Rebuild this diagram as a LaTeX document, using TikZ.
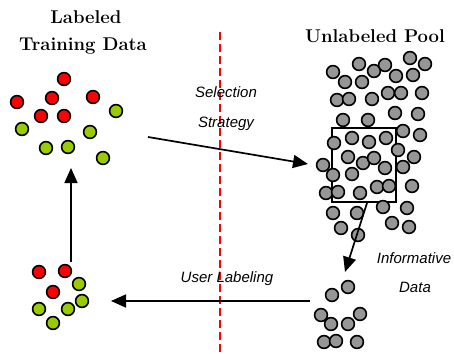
\documentclass[tikz,border=0pt]{standalone}
\usepackage{fontspec}
\setsansfont{Liberation Sans}
\usetikzlibrary{arrows.meta}

\definecolor{leafgreen}{RGB}{153,204,0}
\definecolor{poolgray}{RGB}{150,150,150}

\tikzset{
  dot/.style={circle, draw=black, line width=1.6pt, minimum size=12.8pt, inner sep=0pt},
  reddot/.style={dot, fill=red},
  greendot/.style={dot, fill=leafgreen},
  graydot/.style={dot, fill=poolgray},
  title/.style={font=\bfseries\fontsize{18.5}{22}\selectfont, anchor=base},
  note/.style={font=\sffamily\itshape\fontsize{15}{18}\selectfont, anchor=base},
  flow/.style={line width=1.7pt, -{Triangle[length=15pt,width=13pt]}},
}

\begin{document}
\begin{tikzpicture}[x=1pt, y=-1pt]
  \useasboundingbox (0,0) rectangle (454,353);

  % titles
  \node[title] (lab1) at (86,24) {Labeled};
  \node[title] (lab2) at (83,50) {Training Data};
  \node[title] (pool) at (375,42) {Unlabeled Pool};

  % divider
  \draw[red, line width=1.5pt, dash pattern=on 8pt off 4pt] (220,32) -- (220,353);

  % labeled training data
  \foreach \x/\y [count=\i] in {64/79, 17/102, 52/98, 93/97, 41/116, 64/116}
    \node[reddot] (tr\i) at (\x,\y) {};
  \foreach \x/\y [count=\i] in {116/111, 22/129, 90/132, 46/148, 68/147, 103/158}
    \node[greendot] (tg\i) at (\x,\y) {};

  % newly labeled data
  \foreach \x/\y [count=\i] in {39/272, 65/271, 53/292}
    \node[reddot] (nr\i) at (\x,\y) {};
  \foreach \x/\y [count=\i] in {79/284, 82/301, 39/309, 68/309, 53/323}
    \node[greendot] (ng\i) at (\x,\y) {};

  % selection window
  \draw[line width=1.5pt] (332,128) rectangle (396,202);

  % unlabeled pool
  \foreach \x/\y [count=\i] in {333/72, 345/82, 359/64, 362/82, 374/71, 385/65, 396/76,
      410/58, 425/64, 413/75, 337/100, 349/99, 372/99, 388/93, 401/93, 422/93,
      343/120, 368/120, 395/113, 418/114, 403/131, 420/135, 352/138, 369/142,
      386/138, 334/143, 398/150, 414/157, 348/157, 363/163, 374/158, 323/165,
      385/168, 403/167, 333/175, 352/174, 326/193, 338/192, 360/193, 377/187,
      389/186, 412/186, 333/213, 357/213, 383/207, 407/208, 341/228, 358/235,
      392/223, 409/227}
    \node[graydot] (u\i) at (\x,\y) {};

  % informative data
  \foreach \x/\y [count=\i] in {332/295, 348/287, 321/315, 331/324, 348/324,
      360/314, 324/342, 336/341, 357/342}
    \node[graydot] (q\i) at (\x,\y) {};

  % arrows
  \coordinate (selA) at (148,137);
  \coordinate (selB) at (308,164);
  \coordinate (infA) at (367,203);
  \coordinate (infB) at (345,272);
  \coordinate (usrA) at (310,301);
  \coordinate (usrB) at (111,301);
  \coordinate (upA) at (71,262);
  \coordinate (upB) at (71,168);
  \draw[flow] (selA) -- (selB);
  \draw[flow] (infA) -- (infB);
  \draw[flow] (usrA) -- (usrB);
  \draw[flow] (upA) -- (upB);

  % labels
  \node[note] (sel1) at (226,97) {Selection};
  \node[note] (sel2) at (226,127) {Strategy};
  \node[note] (inf1) at (414,263) {Informative};
  \node[note] (inf2) at (415,292) {Data};
  \node[note] (usr) at (227,282) {User Labeling};
\end{tikzpicture}
\end{document}
